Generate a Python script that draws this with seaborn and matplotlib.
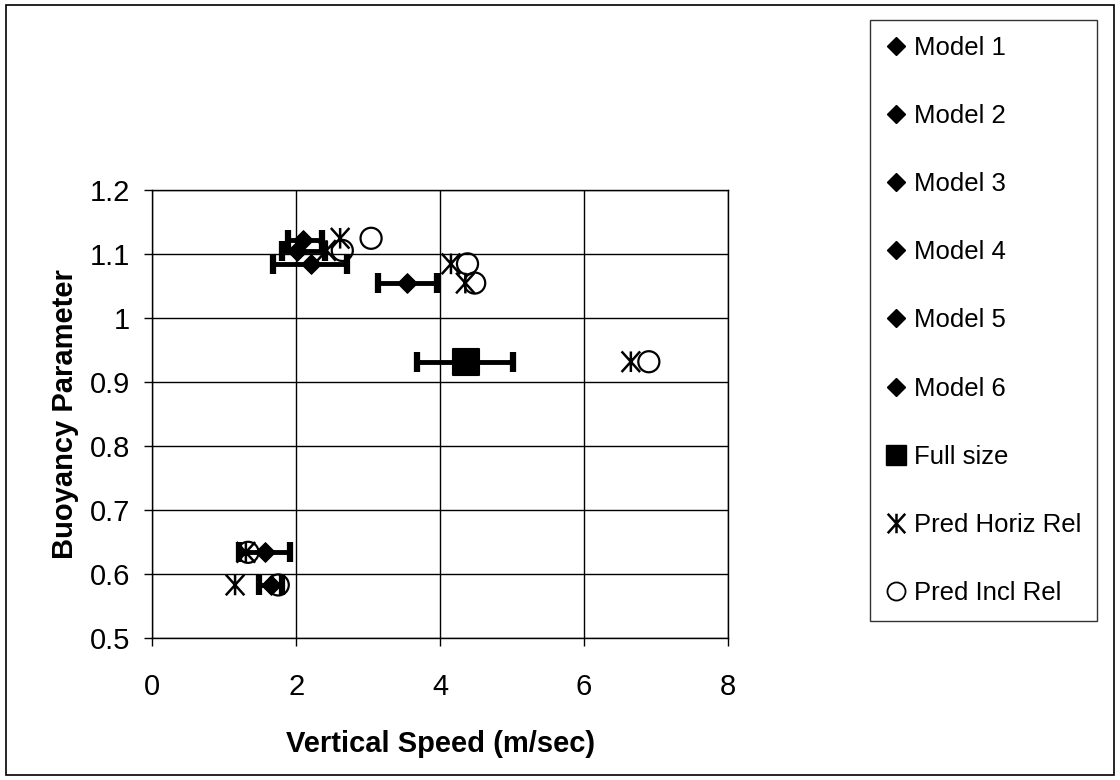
import numpy as np
import pandas as pd
import seaborn as sns
import matplotlib.pyplot as plt
from matplotlib.lines import Line2D
from matplotlib.path import Path

# model results: mean vertical speed and min/max range
model_names = ['Model 1', 'Model 2', 'Model 3', 'Model 4', 'Model 5', 'Model 6']
model_speed = [2.10, 2.01, 2.21, 3.54, 1.57, 1.65]
model_low = [1.89, 1.80, 1.68, 3.14, 1.20, 1.48]
model_high = [2.36, 2.40, 2.71, 3.96, 1.92, 1.80]
model_buoy = [1.122, 1.105, 1.085, 1.055, 0.634, 0.583]

full_speed = [4.36]
full_low = [3.68]
full_high = [5.01]
full_buoy = [0.932]

# predictions
horiz_speed = [2.61, 2.42, 4.15, 4.35, 6.65, 1.30, 1.15]
horiz_buoy = [1.125, 1.106, 1.085, 1.055, 0.932, 0.634, 0.583]
incl_speed = [3.04, 2.64, 4.38, 4.48, 6.90, 1.33, 1.75]
incl_buoy = [1.125, 1.106, 1.085, 1.055, 0.932, 0.634, 0.583]

sns.set_style('white')
plt.rcParams['font.family'] = ['Liberation Sans', 'DejaVu Sans']
plt.rcParams['text.color'] = 'black'
plt.rcParams['axes.labelcolor'] = 'black'
plt.rcParams['xtick.color'] = 'black'
plt.rcParams['ytick.color'] = 'black'

fig = plt.figure(figsize=(11.2, 7.8), dpi=100)
ax = fig.add_axes([0.136, 0.182, 0.514, 0.574])

# "Ж"-like asterisk: vertical stroke plus an X
star = Path([(0, -1), (0, 1), (-0.9, -1), (0.9, 1), (-0.9, 1), (0.9, -1)],
            [Path.MOVETO, Path.LINETO, Path.MOVETO, Path.LINETO, Path.MOVETO, Path.LINETO])

# error bars for models and full size
for x, lo, hi, y in zip(model_speed + full_speed, model_low + full_low,
                        model_high + full_high, model_buoy + full_buoy):
    ax.errorbar(x, y, xerr=[[x - lo], [hi - x]], fmt='none', ecolor='black',
                elinewidth=3.5, capsize=7, capthick=4.5, zorder=3)

df_models = pd.DataFrame({'speed': model_speed, 'buoy': model_buoy, 'name': model_names})
sns.scatterplot(data=df_models, x='speed', y='buoy', marker='D', s=100,
                color='black', edgecolor='black', ax=ax, zorder=4, legend=False)
sns.scatterplot(x=full_speed, y=full_buoy, marker='s', s=360, color='black',
                edgecolor='black', ax=ax, zorder=4, legend=False)
sns.scatterplot(x=horiz_speed, y=horiz_buoy, marker=star, s=220, facecolor='none',
                edgecolor='black', linewidth=1.8, ax=ax, zorder=5, legend=False)
sns.scatterplot(x=incl_speed, y=incl_buoy, marker='o', s=230, facecolor='none',
                edgecolor='black', linewidth=1.6, ax=ax, zorder=5, legend=False)

ax.set_xlim(0, 8)
ax.set_ylim(0.5, 1.2)
ax.set_xticks([0, 2, 4, 6, 8])
ax.set_yticks(np.arange(0.5, 1.21, 0.1))
ax.set_yticklabels(['0.5', '0.6', '0.7', '0.8', '0.9', '1', '1.1', '1.2'])
ax.grid(True, color='black', linewidth=1.0)
ax.set_axisbelow(True)
for sp in ax.spines.values():
    sp.set_color('black')
    sp.set_linewidth(1.0)
ax.tick_params(axis='both', direction='out', length=6, width=1, color='black',
               labelsize=21, bottom=True, left=True)
ax.tick_params(axis='x', pad=19)
ax.tick_params(axis='y', pad=10)
ax.set_xlabel('Vertical Speed (m/sec)', fontsize=21, fontweight='bold', labelpad=21)
ax.set_ylabel('Buoyancy Parameter', fontsize=21, fontweight='bold', labelpad=8)

handles = [Line2D([], [], marker='D', color='black', linestyle='none', markersize=9)
           for _ in model_names]
handles.append(Line2D([], [], marker='s', color='black', linestyle='none', markersize=14))
handles.append(Line2D([], [], marker=star, color='black', linestyle='none',
                      markersize=14, markeredgewidth=1.8))
handles.append(Line2D([], [], marker='o', markerfacecolor='none', markeredgecolor='black',
                      linestyle='none', markersize=13, markeredgewidth=1.3))
labels = model_names + ['Full size', 'Pred Horiz Rel', 'Pred Incl Rel']
leg = fig.legend(handles, labels, loc='upper left', bbox_to_anchor=(0.777, 0.974),
                 frameon=True, fancybox=False, fontsize=18.5, labelspacing=1.72,
                 handlelength=0.8, handletextpad=0.3, borderpad=0.6,
                 borderaxespad=0)
leg.get_frame().set_edgecolor('black')
leg.get_frame().set_linewidth(1.0)

# outer border around the whole chart
fig.patches.append(plt.Rectangle((0.005, 0.006), 0.99, 0.988, transform=fig.transFigure,
                                 fill=False, edgecolor='black', linewidth=1.2))

fig.savefig('out.png', dpi=100)
